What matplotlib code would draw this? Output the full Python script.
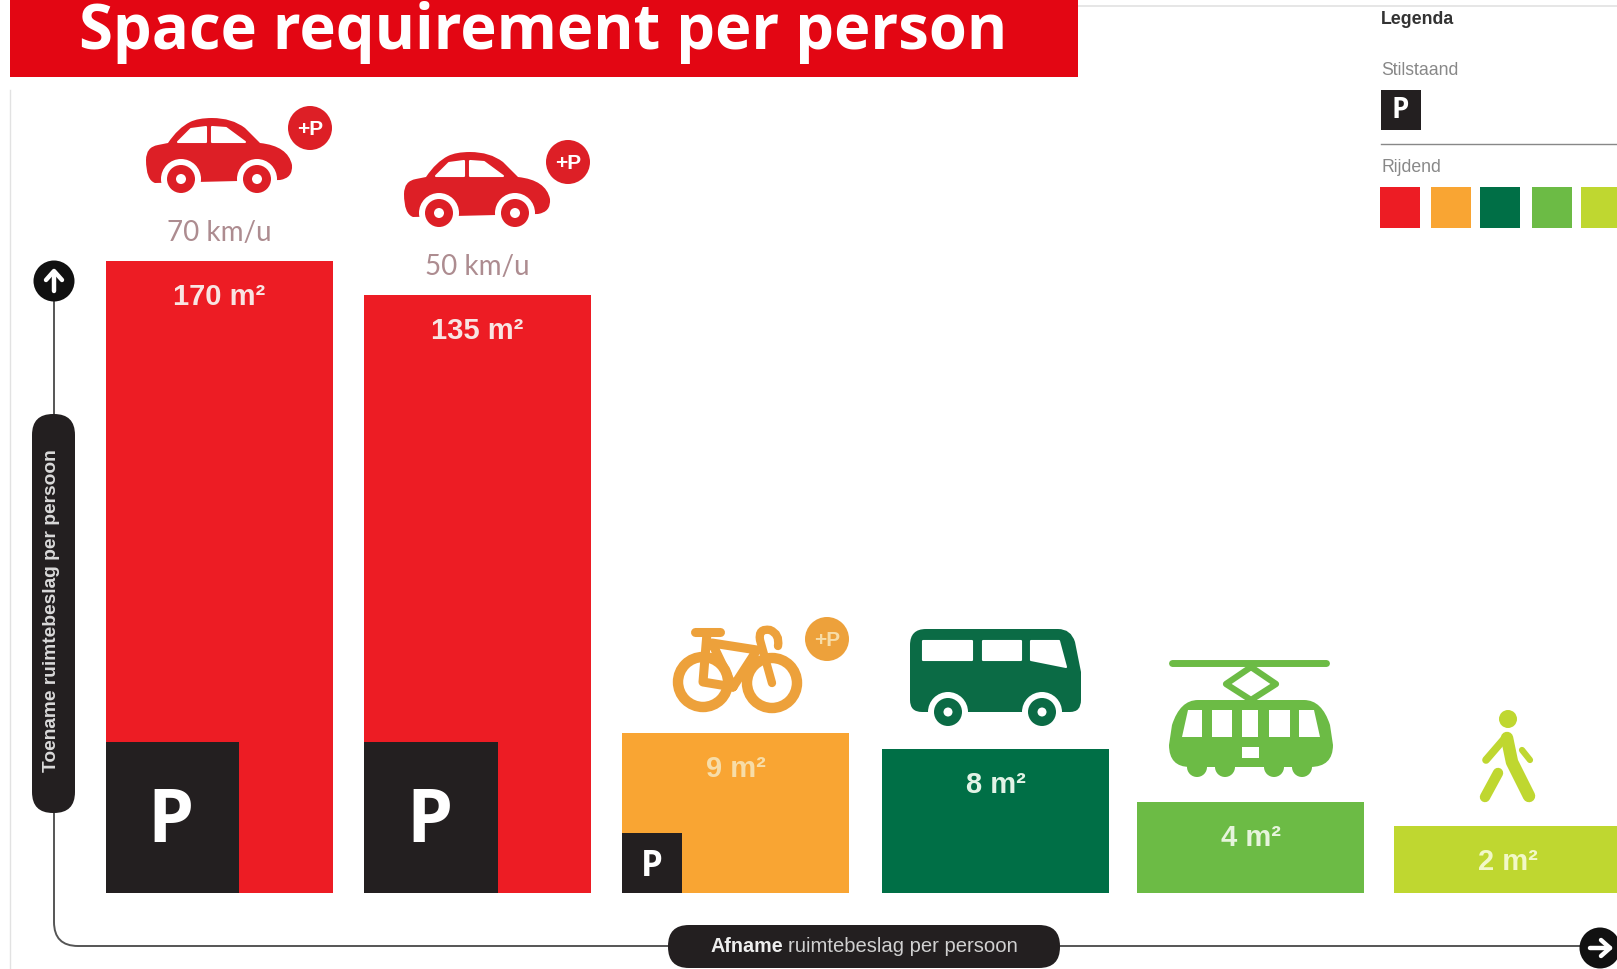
import matplotlib
matplotlib.use('Agg')
import matplotlib.pyplot as plt
from matplotlib.patches import Circle, Polygon, Rectangle, FancyBboxPatch, PathPatch
from matplotlib.path import Path

# data
modes = ['Auto 70 km/u', 'Auto 50 km/u', 'Fiets', 'Bus', 'Tram', 'Lopen']
areas = [170, 135, 9, 8, 4, 2]
# the drawn bars are not to scale with the m2 labels, so read them off the picture
bar_heights = [632, 598, 160, 144, 91, 67]
park_heights = [151, 151, 60]
park_widths = [133, 134, 60]
speed_labels = ['70 km/u', '50 km/u']
bar_colors = ['#ED1C24', '#ED1C24', '#F9A533', '#006F46', '#6CBB45', '#BFD730']
label_colors = ['#F8E4E2', '#F8E4E2', '#F7DDA8', '#E2F3E6', '#E6F4DC', '#F2F8C8']

RED_ICON = '#DD1F26'
ORANGE_ICON = '#EDA13B'
BLACK = '#231F20'
SANS = 'Liberation Sans'
BASE = 893
M, L, Q = Path.MOVETO, Path.LINETO, Path.CURVE3

fig = plt.figure(figsize=(16.17, 9.69), dpi=100)
ax = fig.add_axes([0, 0, 1, 1])
ax.set_xlim(0, 1617)
ax.set_ylim(969, 0)
ax.axis('off')


def poly(pts, color, z=5, lw=0):
    ax.add_patch(Polygon(pts, closed=True, fc=color, ec=color, lw=lw, joinstyle='round', zorder=z))


def circ(x, y, r, color, z=5):
    ax.add_patch(Circle((x, y), r, fc=color, ec='none', zorder=z))


def stroke(pts, color, lw, z=5):
    xs, ys = zip(*pts)
    ax.plot(xs, ys, color=color, lw=lw, solid_capstyle='round', solid_joinstyle='round', zorder=z)


def plus_p(x, y, color, text_color='white'):
    circ(x, y, 22, color)
    ax.text(x, y + 1, '+P', color=text_color, fontsize=15, fontweight='bold', family=SANS,
            ha='center', va='center', zorder=6)


def car(dx, dy):
    verts = [(146, 160), (146, 147), (158, 145), (168, 143), (178, 128), (190, 122), (198, 118), (212, 118),
             (232, 118), (245, 128), (260, 143), (288, 146), (292, 165), (293, 178), (280, 180),
             (155, 183), (146, 180), (146, 160)]
    codes = [M, Q, Q, L, Q, Q, Q, Q, Q, Q, L, Q, Q, Q, Q, L, Q, Q]
    ax.add_patch(PathPatch(Path([(x + dx, y + dy) for x, y in verts], codes), fc=RED_ICON, ec='none', zorder=5))
    for wx in (181, 257):
        circ(wx + dx, 179 + dy, 20, 'white', 6)
        circ(wx + dx, 179 + dy, 14, RED_ICON, 7)
        circ(wx + dx, 179 + dy, 5, 'white', 8)
    for win in ([(178, 142), (191, 129), (206, 127), (206, 142)],
                [(212, 127), (226, 128), (245, 142), (212, 142)]):
        poly([(x + dx, y + dy) for x, y in win], 'white', 6, lw=1.5)
    plus_p(310 + dx, 128 + dy, RED_ICON)


def bike():
    c = ORANGE_ICON
    for wx, wy in ((703, 682), (772, 683)):
        ax.add_patch(Circle((wx, wy), 25, fc='none', ec=c, lw=7.5, zorder=5))
    stroke([(695, 632), (720, 632)], c, 6.5)
    stroke([(707, 633), (703, 682), (733, 687), (757, 650), (712, 643), (733, 687)], c, 6.5)
    ax.add_patch(PathPatch(Path([(772, 683), (760, 640), (758, 628), (770, 630), (780, 634), (778, 646)],
                                [M, L, Q, Q, Q, Q]), fc='none', ec=c, lw=6, capstyle='round', zorder=5))
    plus_p(827, 639, c, '#F7DDA8')


def bus():
    c = '#0B6B45'
    verts = [(910, 695), (910, 645), (910, 629), (926, 629), (1058, 629), (1071, 629), (1075, 642),
             (1081, 672), (1081, 700), (1081, 712), (1070, 712), (922, 712), (910, 712), (910, 700), (910, 695)]
    codes = [M, L, Q, Q, L, Q, Q, L, L, Q, Q, L, Q, Q, Path.CLOSEPOLY]
    ax.add_patch(PathPatch(Path(verts, codes), fc=c, ec='none', zorder=5))
    for win in ([(923, 641), (972, 641), (972, 660), (923, 660)],
                [(983, 641), (1021, 641), (1021, 660), (983, 660)],
                [(1031, 641), (1059, 641), (1066, 667), (1031, 660)]):
        poly(win, 'white', 6, lw=1.5)
    for wx in (948, 1042):
        circ(wx, 712, 20, 'white', 6)
        circ(wx, 712, 14, c, 7)
        circ(wx, 712, 4.5, 'white', 8)


def tram():
    c = '#6CBB45'
    stroke([(1172, 663), (1326, 663)], c, 5)
    stroke([(1251, 667), (1276, 684), (1251, 700), (1226, 684), (1251, 667)], c, 4.5)
    verts = [(1169, 745), (1172, 725), (1180, 700), (1198, 700), (1304, 700), (1322, 700), (1330, 725),
             (1333, 745), (1333, 767), (1310, 767), (1190, 767), (1169, 767), (1169, 745)]
    codes = [M, L, Q, Q, L, Q, Q, L, Q, Q, L, Q, Q]
    ax.add_patch(PathPatch(Path(verts, codes), fc=c, ec='none', zorder=5))
    for wx in (1197, 1225, 1274, 1302):
        circ(wx, 767, 10, c)
    for win in ([(1188, 710), (1202, 710), (1202, 737), (1182, 737)],
                [(1212, 710), (1232, 710), (1232, 737), (1212, 737)],
                [(1242, 710), (1258, 710), (1258, 737), (1242, 737)],
                [(1269, 710), (1290, 710), (1290, 737), (1269, 737)],
                [(1299, 710), (1314, 710), (1320, 737), (1299, 737)],
                [(1242, 747), (1259, 747), (1259, 758), (1242, 758)]):
        poly(win, 'white', 6)


def walker():
    c = '#BFD730'
    circ(1508, 719, 9, c)
    stroke([(1507, 738), (1512, 762), (1529, 796)], c, 9)
    stroke([(1505, 738), (1486, 760)], c, 5.5)
    stroke([(1522, 750), (1530, 760)], c, 4.5)
    stroke([(1498, 773), (1485, 797)], c, 7.5)


def arrow_circle(x, y, horizontal):
    circ(x, y, 20.5, '#111111', 9)
    if horizontal:
        stroke([(x - 10, y), (x + 10, y)], 'white', 3.2, 10)
        stroke([(x + 1, y - 8), (x + 10, y), (x + 1, y + 8)], 'white', 3.2, 10)
    else:
        stroke([(x, y + 10), (x, y - 9)], 'white', 3.2, 10)
        stroke([(x - 8, y - 1), (x, y - 10), (x + 8, y - 1)], 'white', 3.2, 10)


# bars
x_left = [106, 364, 622, 882, 1137, 1394]
ax.bar(x_left, bar_heights, width=227, align='edge', bottom=[BASE - h for h in bar_heights],
       color=bar_colors, linewidth=0, zorder=2)
ax.bar(x_left[:3], park_heights, width=park_widths, align='edge',
       bottom=[BASE - h for h in park_heights], color=BLACK, linewidth=0, zorder=3)

# P in the parking blocks
for i, (h, w) in enumerate(zip(park_heights, park_widths)):
    ax.text(x_left[i] + w / 2 - (2 if i < 2 else 0.5), BASE - h / 2 + (4 if i == 2 else 6), 'P', color='white',
            fontsize=53 if i < 2 else 25, fontweight='bold', family='Open Sans',
            ha='center', va='center', zorder=4)

# m2 labels
for i, a in enumerate(areas):
    ax.text(x_left[i] + 113.5 if i < 5 else 1508, BASE - bar_heights[i] + 36, f'{a} m²', color=label_colors[i],
            fontsize=21, fontweight='bold', family=SANS, ha='center', va='center', zorder=4)

# speed labels
for i, s in enumerate(speed_labels):
    ax.text(x_left[i] + 113, BASE - bar_heights[i] - 28, s, color='#AD8C90', fontsize=20, family='Lato',
            ha='center', va='center', zorder=4)

# icons
car(0, 0)
car(258, 34)
bike()
bus()
tram()
walker()

# title band
ax.add_patch(Rectangle((10, 0), 1068, 77, fc='#E30613', ec='none', zorder=5))
ax.text(543, 48.5, 'Space requirement per person', color='white', fontsize=44.3, fontweight='bold',
        family='Open Sans', ha='center', va='baseline', zorder=6)

# thin grey edges left over from the screenshot
ax.plot([10, 10], [90, 969], color='#E2E2E2', lw=1, zorder=1)
ax.plot([1078, 1617], [6, 6], color='#E2E2E2', lw=1.2, zorder=1)

# axes lines
corner = Path([(54, 281), (54, 922), (54, 946), (78, 946), (1600, 946)], [M, L, Q, Q, L])
ax.add_patch(PathPatch(corner, fc='none', ec='#555555', lw=1.4, zorder=3))
arrow_circle(54, 281, False)
arrow_circle(1600, 948, True)

ax.add_patch(FancyBboxPatch((32, 414), 43, 399, boxstyle='round,pad=0,rounding_size=21', fc=BLACK, ec='none', zorder=7))
ax.text(52, 611, 'Toename ruimtebeslag per persoon', color='#DADADA', fontsize=13.8, fontweight='bold', family=SANS,
        rotation=90, ha='center', va='center', zorder=8)

ax.add_patch(FancyBboxPatch((668, 925), 392, 43, boxstyle='round,pad=0,rounding_size=21', fc=BLACK, ec='none', zorder=7))
ax.text(783, 946, 'Afname', color='#EEEEEE', fontsize=14.2, fontweight='bold', family=SANS,
        ha='right', va='center', zorder=8)
ax.text(788, 946, 'ruimtebeslag per persoon', color='#D0D0D0', fontsize=14.6, family=SANS,
        ha='left', va='center', zorder=8)

# legend
ax.text(1381, 19, 'Legenda', color='#333333', fontsize=12.8, fontweight='bold', family=SANS, va='center')
ax.text(1381, 70, 'Stilstaand', color='#888888', fontsize=12.7, family=SANS, va='center')
ax.add_patch(Rectangle((1381, 90), 40, 40, fc=BLACK, ec='none'))
ax.text(1400, 110, 'P', color='white', fontsize=20, fontweight='bold', family='Open Sans', ha='center', va='center')
ax.plot([1381, 1617], [144, 144], color='#888888', lw=1)
ax.text(1381, 167, 'Rijdend', color='#888888', fontsize=12.7, family=SANS, va='center')
ax.bar([1380, 1431, 1480, 1532, 1581], [41] * 5, width=40, align='edge', bottom=187,
       color=['#ED1C24', '#F9A533', '#006F46', '#6CBB45', '#BFD730'], linewidth=0)

plt.savefig('out.png', dpi=100)
